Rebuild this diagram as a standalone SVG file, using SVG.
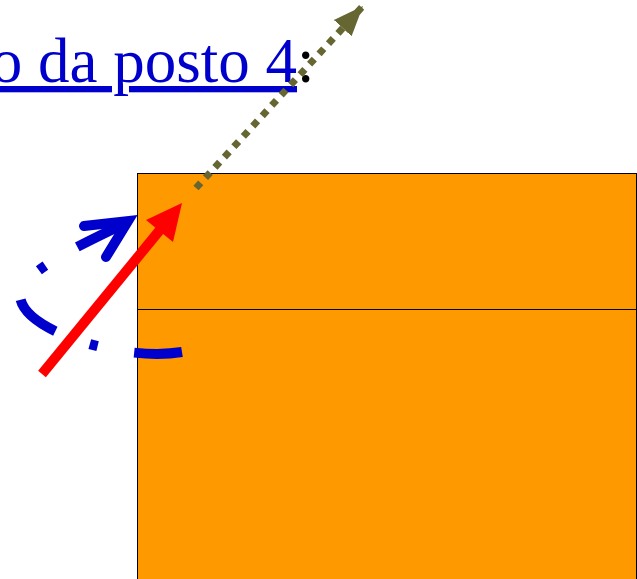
<svg xmlns="http://www.w3.org/2000/svg" width="637" height="579" viewBox="0 0 637 579">
<style>
.box{fill:#ff9900;stroke:#000;stroke-width:1}
.lbl{font-family:"Liberation Serif","Times New Roman",serif;font-size:63px}
</style>
<defs>
<marker id="olive" markerUnits="userSpaceOnUse" viewBox="0 0 30 26" refX="30" refY="13" markerWidth="30" markerHeight="26" orient="auto">
<path d="M0,1 L30,13 L0,25 Z" fill="#666633"/>
</marker>
</defs>
<g id="box-top"><rect class="box" x="137.5" y="173.5" width="499" height="136"/></g>
<g id="box-bottom"><rect class="box" x="137.5" y="309.5" width="499" height="280"/></g>
<g id="label">
<text class="lbl" x="297" y="82" text-anchor="end" fill="#0000cc" text-decoration="underline">o da posto 4</text>
<text class="lbl" x="297" y="82" fill="#000">:</text>
</g>
<g id="connectors">
<path d="M182,352 C120,362 20,330 20,295 C20,270 100,236 136,218" fill="none" stroke="#0000cc" stroke-width="10" stroke-dasharray="48 37 8 37"/>
<path d="M84,226 L128,221 L106,257" fill="none" stroke="#0000cc" stroke-width="10" stroke-linecap="round" stroke-linejoin="miter"/>
<line x1="42" y1="374" x2="164" y2="225" stroke="#ff0000" stroke-width="10"/>
<polygon points="182,203 146,220 173,242" fill="#ff0000"/>
<line x1="196" y1="188" x2="363" y2="6" stroke="#666633" stroke-width="7" stroke-dasharray="7 7" marker-end="url(#olive)"/>
</g>
</svg>
